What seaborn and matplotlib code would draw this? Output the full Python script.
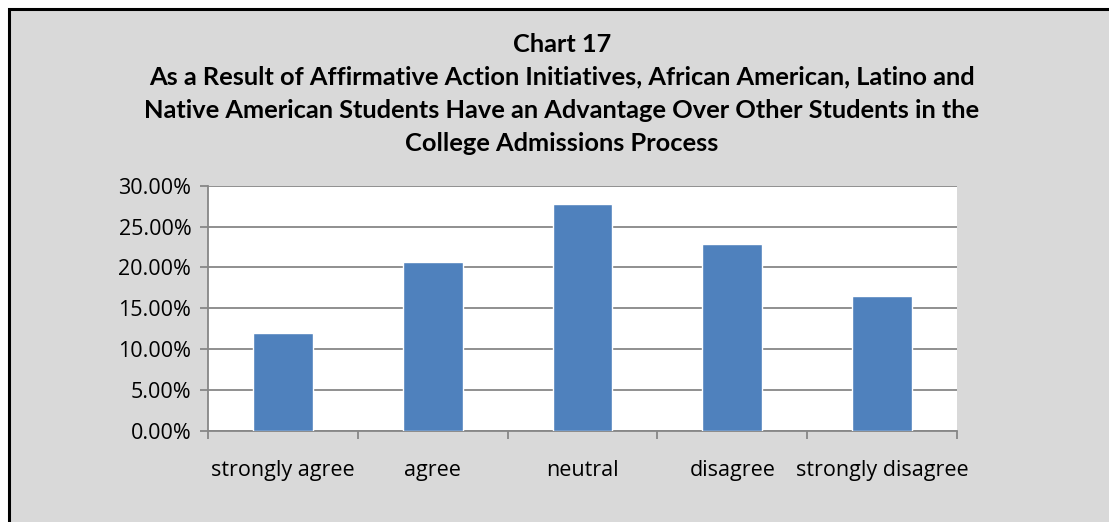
import numpy as np
import pandas as pd
import seaborn as sns
import matplotlib.pyplot as plt
from matplotlib.patches import Rectangle
from matplotlib.ticker import PercentFormatter

categories = ["strongly agree", "agree", "neutral", "disagree", "strongly disagree"]
percents = [12.0, 20.6, 27.8, 22.8, 16.5]
title_lines = [
    "Chart 17",
    "As a Result of Affirmative Action Initiatives, African American, Latino and",
    "Native American Students Have an Advantage Over Other Students in the",
    "College Admissions Process",
]

df = pd.DataFrame({"response": categories, "pct": percents})

sns.set_style("white")
plt.rcParams["font.family"] = ["Lato", "DejaVu Sans"]

fig = plt.figure(figsize=(11.09, 5.22), dpi=100)
fig.patch.set_facecolor("white")
# gray chart area with black frame (cropped on right/bottom)
bg = Rectangle((8.5 / 1109, -0.05), 1.1, 1 - 8.5 / 522 + 0.05,
               transform=fig.transFigure, facecolor="#d9d9d9",
               edgecolor="black", linewidth=2.2, zorder=-10)
fig.add_artist(bg)

ax = fig.add_axes([208 / 1109, 1 - 430.7 / 522, (957 - 208) / 1109, (430.7 - 185.7) / 522])
sns.barplot(data=df, x="response", y="pct", color="#4f81bd", width=0.4,
            saturation=1, ax=ax, zorder=3)

ax.set_facecolor("white")
ax.set_ylim(0, 30)
ax.set_xlim(-0.5, 4.5)
ax.set_yticks(np.arange(0, 31, 5))
ax.yaxis.set_major_formatter(PercentFormatter(decimals=2))
ax.grid(axis="y", color="#878787", linewidth=1.3, zorder=1)
ax.set_axisbelow(True)

ax.set_xticks(np.arange(-0.5, 5, 1))
ax.set_xticklabels([])
ax.set_xticks(np.arange(5), minor=True)
ax.set_xticklabels(categories, minor=True, family=["Open Sans", "DejaVu Sans"])
for lbl in ax.get_yticklabels():
    lbl.set_family(["Open Sans", "DejaVu Sans"])
ax.tick_params(axis="x", which="major", length=6, width=1.3, color="#878787", direction="out", bottom=True)
ax.tick_params(axis="x", which="minor", length=0, pad=21, labelsize=15.5, labelcolor="black")
ax.tick_params(axis="y", length=6, width=1.3, color="#878787", direction="out", left=True, pad=6,
               labelsize=15.5, labelcolor="black")
ax.set_xlabel("")
ax.set_ylabel("")

for s in ["top", "right"]:
    ax.spines[s].set_visible(False)
for s in ["left", "bottom"]:
    ax.spines[s].set_color("#878787")
    ax.spines[s].set_linewidth(1.3)

for i, line in enumerate(title_lines):
    fig.text(562 / 1109, 1 - (44 + i * 33.3) / 522, line, ha="center", va="center",
             fontsize=18.3, fontweight="bold", color="black")

plt.savefig("out.png", dpi=100)
